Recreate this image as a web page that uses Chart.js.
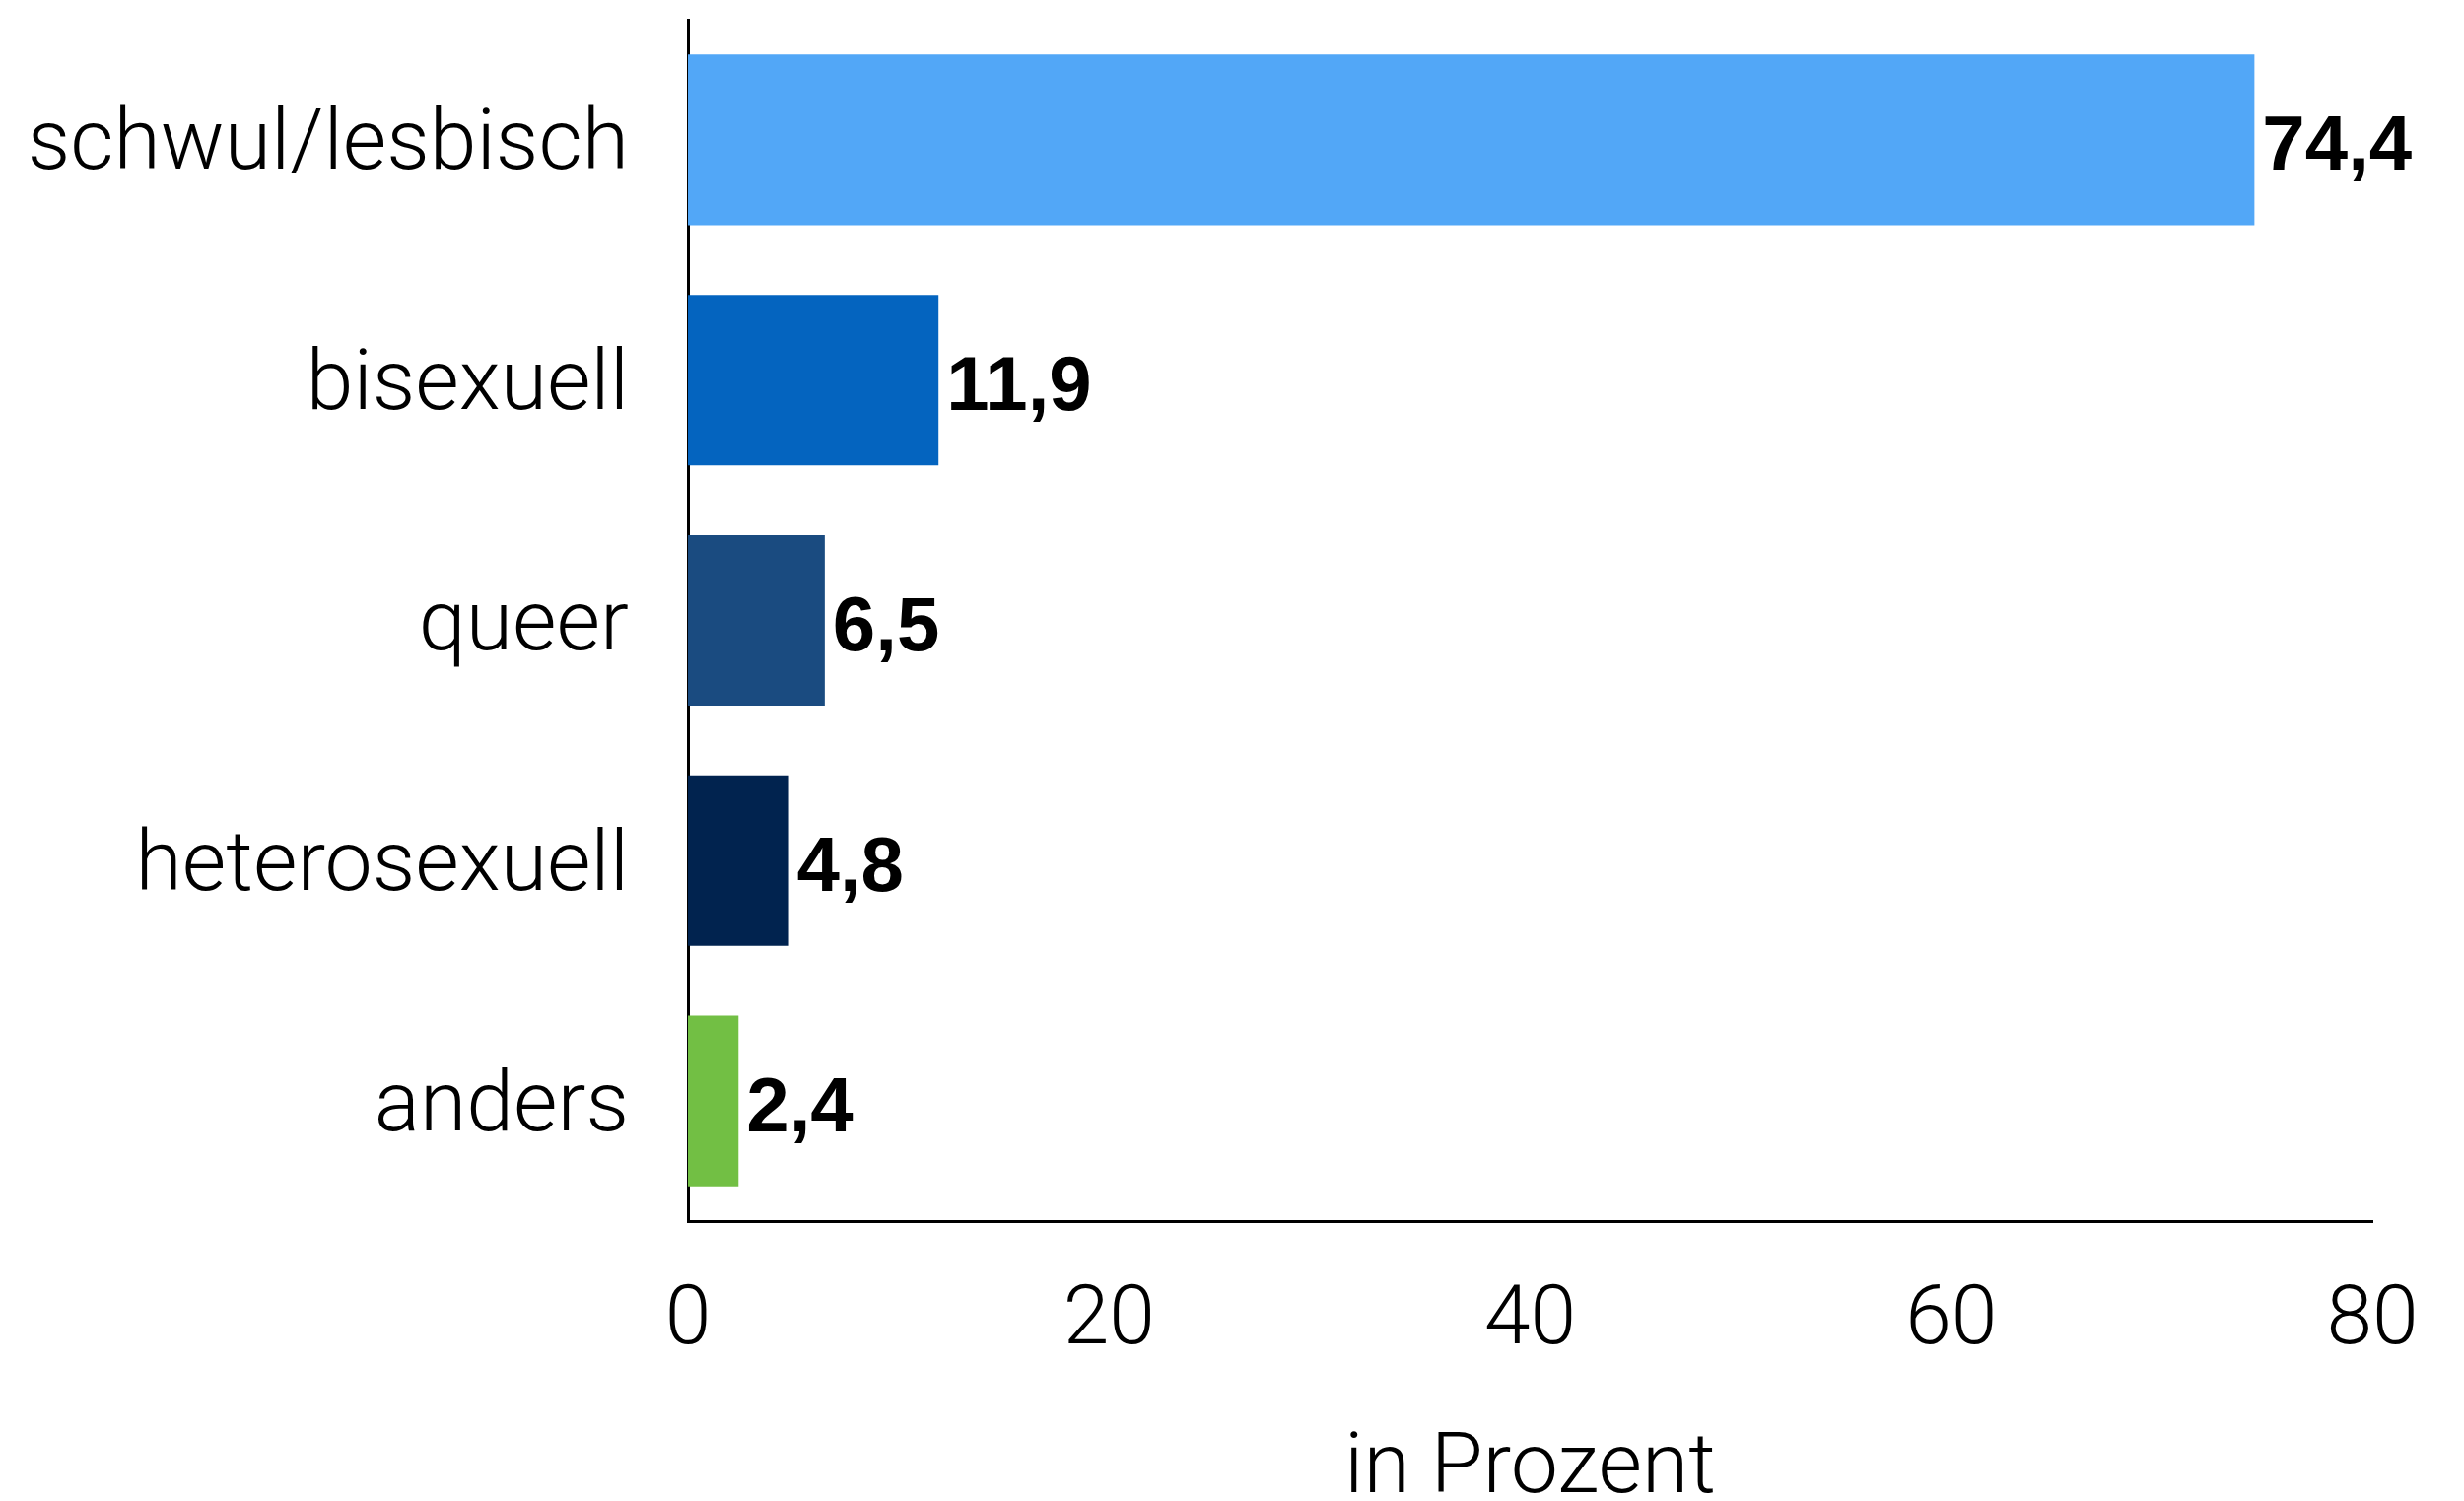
<!DOCTYPE html>
<html>
<head>
<meta charset="utf-8">
<script src="https://cdn.jsdelivr.net/npm/chart.js@4"></script>
<style>
  html, body { margin: 0; padding: 0; background: #fff; }
  #wrap { width: 2500px; height: 1523px; position: relative; }
</style>
</head>
<body>
<div id="wrap"><canvas id="c" width="2500" height="1523"></canvas></div>
<script>
const categories = ["schwul/lesbisch", "bisexuell", "queer", "heterosexuell", "anders"];
const values = [74.4, 11.9, 6.5, 4.8, 2.4];
const valueLabels = ["74,4", "11,9", "6,5", "4,8", "2,4"];
const barColors = ["#52A7F7", "#0464BF", "#1A4B80", "#01234F", "#72BF44"];
const xTicks = [0, 20, 40, 60, 80];
const xTitle = "in Prozent";

const labelFont = "Roboto, 'Liberation Sans', sans-serif";

const valueLabelPlugin = {
  id: 'valueLabels',
  afterDatasetsDraw(chart) {
    const ctx = chart.ctx;
    const meta = chart.getDatasetMeta(0);
    ctx.save();
    ctx.font = "bold 78px 'Liberation Sans', Arial, sans-serif";
    ctx.fillStyle = "#000";
    ctx.textAlign = "left";
    ctx.textBaseline = "middle";
    meta.data.forEach((bar, i) => {
      ctx.fillText(valueLabels[i], bar.x + 8, bar.y + 9);
    });
    ctx.restore();
  }
};

new Chart(document.getElementById('c'), {
  type: 'bar',
  data: {
    labels: categories,
    datasets: [{
      data: values,
      backgroundColor: barColors,
      borderWidth: 0,
      barPercentage: 0.71,
      categoryPercentage: 1.0
    }]
  },
  options: {
    indexAxis: 'y',
    responsive: false,
    animation: false,
    devicePixelRatio: 1,
    layout: { padding: { left: 0, right: 93, top: 20, bottom: 0 } },
    plugins: { legend: { display: false }, tooltip: { enabled: false } },
    scales: {
      x: {
        min: 0, max: 80,
        afterBuildTicks(scale) { scale.ticks = xTicks.map(v => ({ value: v })); },
        afterFit(scale) { scale.height = 284; scale.paddingLeft = 0; scale.paddingRight = 0; },
        grid: { display: false, drawTicks: false },
        border: { display: true, color: '#000', width: 3 },
        ticks: {
          color: '#000',
          padding: 53,
          maxRotation: 0,
          font: { family: labelFont, size: 84, weight: 300 }
        },
        title: {
          display: true,
          text: xTitle,
          color: '#000',
          padding: { top: 0, bottom: 0 },
          font: { family: labelFont, size: 86, weight: 300, lineHeight: 0.7 }
        }
      },
      y: {
        afterFit(scale) { scale.width = 698; scale.paddingTop = 0; scale.paddingBottom = 0; },
        grid: { display: false, drawTicks: false },
        border: { display: true, color: '#000', width: 3 },
        ticks: {
          color: '#000',
          padding: 60,
          labelOffset: 8,
          font: { family: labelFont, size: 86, weight: 300 }
        }
      }
    }
  },
  plugins: [valueLabelPlugin]
});
</script>
</body>
</html>
